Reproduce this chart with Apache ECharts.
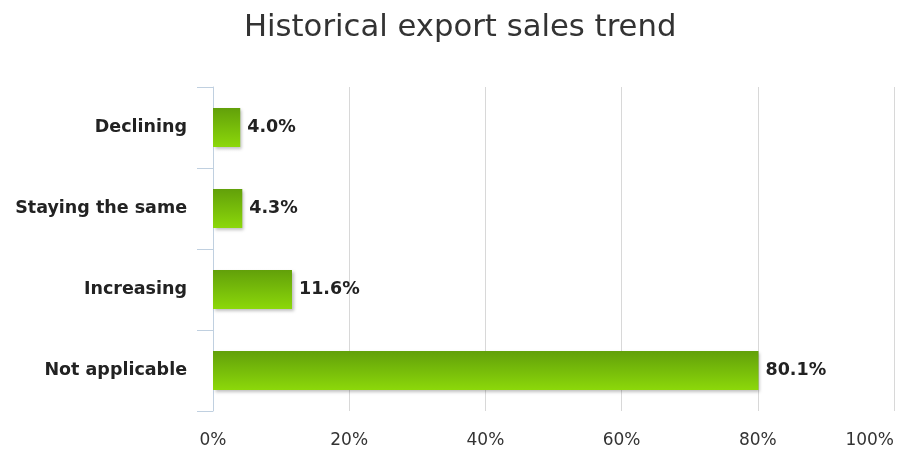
<!DOCTYPE html>
<html><head><meta charset="utf-8">
<script src="https://cdn.jsdelivr.net/npm/echarts@6/dist/echarts.min.js"></script>
<style>html,body{margin:0;padding:0;background:#fff}#c{width:897px;height:451px}</style>
</head><body><div id="c"></div>
<script>
const title = 'Historical export sales trend';
const categories = ['Declining', 'Staying the same', 'Increasing', 'Not applicable'];
const values = [4.0, 4.3, 11.6, 80.1];
const xTicks = [0, 20, 40, 60, 80, 100];

const chart = echarts.init(document.getElementById('c'));
chart.setOption({
  backgroundColor: '#fff',
  animation: false,
  title: {
    text: title, left: 239, top: 8,
    textStyle: { fontFamily: 'DejaVu Sans', fontSize: 30.7, fontWeight: 'normal', color: '#333' }
  },
  grid: { left: 213, right: 1, top: 87, bottom: 40, containLabel: false },
  xAxis: {
    type: 'value', min: xTicks[0], max: xTicks[xTicks.length - 1], interval: 20,
    axisLine: { show: false }, axisTick: { show: false },
    splitLine: { lineStyle: { color: '#d8d8d8', width: 1 } },
    axisLabel: { formatter: '{value}%', margin: 21, alignMaxLabel: 'right',
      fontFamily: 'DejaVu Sans', fontSize: 17, color: '#333' }
  },
  yAxis: {
    type: 'category', data: categories, inverse: true,
    axisLine: { lineStyle: { color: '#c0d0e0', width: 1 } },
    axisTick: { show: true, length: 16, lineStyle: { color: '#c0d0e0' } },
    axisLabel: { margin: 26, fontFamily: 'DejaVu Sans', fontSize: 17.5, fontWeight: 'bold', color: '#222' }
  },
  series: [{
    type: 'bar', data: values, barWidth: 39,
    itemStyle: {
      color: new echarts.graphic.LinearGradient(0, 0, 0, 1, [
        { offset: 0, color: '#62a00a' }, { offset: 1, color: '#8cd80a' }
      ]),
      shadowColor: 'rgba(0,0,0,0.25)', shadowBlur: 3, shadowOffsetX: 2, shadowOffsetY: 2
    },
    label: {
      show: true, position: 'right', distance: 7,
      formatter: p => p.value.toFixed(1) + '%',
      fontFamily: 'DejaVu Sans', fontSize: 17.5, fontWeight: 'bold', color: '#222'
    }
  }]
});
</script></body></html>
